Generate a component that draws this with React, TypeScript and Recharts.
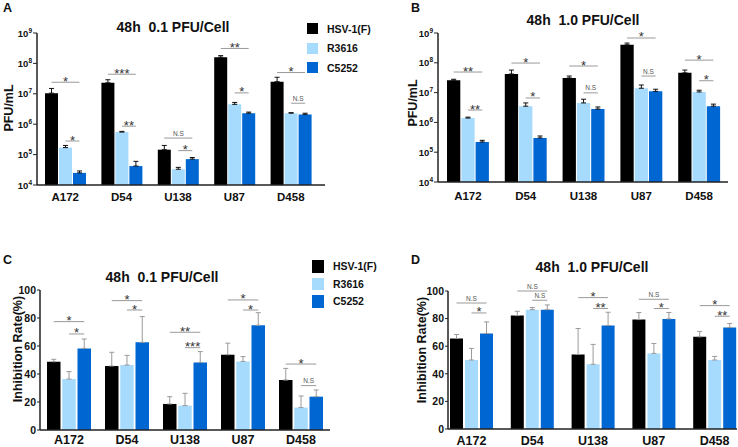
import React from "react";
import { BarChart, Bar, XAxis, YAxis, ErrorBar } from "recharts";

const FONT = '"Liberation Sans", Arial, Helvetica, sans-serif';

const cells = ["A172", "D54", "U138", "U87", "D458"];
const viruses = ["HSV-1(F)", "R3616", "C5252"];
const barColors = ["#000000", "#a6dbfd", "#0067d2"];

// A - titer at 0.1 PFU/cell (mean and mean + SD)
const titerLowHsv = [1.05e7, 2.3e7, 1.45e5, 1.6e8, 2.5e7];
const titerLowHsvTop = [1.5e7, 2.9e7, 2.0e5, 1.8e8, 3.5e7];
const titerLowR3616 = [1.7e5, 5.5e5, 3.3e4, 4.5e6, 2.3e6];
const titerLowR3616Top = [2.0e5, 5.8e5, 3.8e4, 5.2e6, 2.4e6];
const titerLowC5252 = [2.5e4, 4.2e4, 7.1e4, 2.3e6, 2.1e6];
const titerLowC5252Top = [2.9e4, 6.0e4, 8.0e4, 2.5e6, 2.3e6];
const titerLowSigTop = [2.4e7, 4.4e7, 3.5e5, 3.1e8, 5.0e7];
const titerLowSigTopText = ["*", "***", "N.S", "**", "*"];
const titerLowSigLow = [2.8e5, 8.6e5, 1.35e5, 1.07e7, 4.9e6];
const titerLowSigLowText = ["*", "**", "*", "*", "N.S"];

// B - titer at 1.0 PFU/cell
const titerHighHsv = [2.6e7, 4.2e7, 3.1e7, 4.0e8, 4.6e7];
const titerHighHsvTop = [2.8e7, 5.7e7, 3.6e7, 4.6e8, 5.7e7];
const titerHighR3616 = [1.4e6, 3.5e6, 4.5e6, 1.4e7, 1.05e7];
const titerHighR3616Top = [1.5e6, 4.5e6, 6.0e6, 1.8e7, 1.2e7];
const titerHighC5252 = [2.2e5, 3.0e5, 2.8e6, 1.1e7, 3.5e6];
const titerHighC5252Top = [2.5e5, 3.5e5, 3.3e6, 1.3e7, 4.1e6];
const titerHighSigTop = [4.9e7, 9.8e7, 7.8e7, 6.8e8, 1.23e8];
const titerHighSigTopText = ["**", "*", "*", "*", "*"];
const titerHighSigLow = [2.6e6, 6.6e6, 9.8e6, 3.6e7, 2.5e7];
const titerHighSigLowText = ["**", "*", "N.S", "N.S", "*"];

// C - inhibition rate at 0.1 PFU/cell
const inhLowHsv = [48.8, 45.7, 18.6, 53.8, 35.7];
const inhLowHsvTop = [50.5, 55.5, 23.8, 62, 44];
const inhLowR3616 = [36.4, 46.4, 17.4, 49, 16];
const inhLowR3616Top = [41.7, 53.3, 26.2, 52.4, 24.3];
const inhLowC5252 = [58.3, 62.6, 48.3, 74.8, 23.8];
const inhLowC5252Top = [65, 81, 56, 83.8, 28.6];
const inhLowSigTop = [77.4, 92.4, 69.8, 92.9, 47.1];
const inhLowSigTopText = ["*", "*", "**", "*", "*"];
const inhLowSigLow = [68.6, 85.7, 58.8, 85.7, 31.7];
const inhLowSigLowText = ["*", "*", "***", "*", "N.S"];

// D - inhibition rate at 1.0 PFU/cell
const inhHighHsv = [65.6, 82.2, 54, 79.3, 66.8];
const inhHighHsvTop = [68.5, 85.3, 72.8, 84.4, 70.7];
const inhHighR3616 = [50, 86.5, 46.9, 54.8, 50];
const inhHighR3616Top = [58.4, 88, 61.3, 62, 52.6];
const inhHighC5252 = [69.2, 86.5, 75, 79.8, 73.6];
const inhHighC5252Top = [77.6, 89.9, 84.6, 84.4, 76.4];
const inhHighSigTop = [91.3, 100, 95.2, 94, 89.4];
const inhHighSigTopText = ["N.S", "N.S", "*", "N.S", "*"];
const inhHighSigLow = [84.1, 93.3, 87.3, 87.3, 81.7];
const inhHighSigLowText = ["*", "N.S", "**", "*", "**"];

const logTicks = [1e4, 1e5, 1e6, 1e7, 1e8, 1e9];
const pctTicks = [0, 20, 40, 60, 80, 100];

const buildRows = (s: number[][], sigTop: number[], sigTopText: string[], sigLow: number[], sigLowText: string[]) =>
  cells.map((cell, i) => ({
    cell,
    hsv: s[0][i],
    r3616: s[2][i],
    c5252: s[4][i],
    hsvErr: [0, s[1][i] - s[0][i]],
    r3616Err: [0, s[3][i] - s[2][i]],
    c5252Err: [0, s[5][i] - s[4][i]],
    b1: sigTop[i],
    t1: sigTopText[i],
    b2: sigLow[i],
    t2: sigLowText[i],
  }));

const rowsA = buildRows(
  [titerLowHsv, titerLowHsvTop, titerLowR3616, titerLowR3616Top, titerLowC5252, titerLowC5252Top],
  titerLowSigTop, titerLowSigTopText, titerLowSigLow, titerLowSigLowText
);
const rowsB = buildRows(
  [titerHighHsv, titerHighHsvTop, titerHighR3616, titerHighR3616Top, titerHighC5252, titerHighC5252Top],
  titerHighSigTop, titerHighSigTopText, titerHighSigLow, titerHighSigLowText
);
const rowsC = buildRows(
  [inhLowHsv, inhLowHsvTop, inhLowR3616, inhLowR3616Top, inhLowC5252, inhLowC5252Top],
  inhLowSigTop, inhLowSigTopText, inhLowSigLow, inhLowSigLowText
);
const rowsD = buildRows(
  [inhHighHsv, inhHighHsvTop, inhHighR3616, inhHighR3616Top, inhHighC5252, inhHighC5252Top],
  inhHighSigTop, inhHighSigTopText, inhHighSigLow, inhHighSigLowText
);

const PowTick = (props: any) => {
  const { x, y, payload } = props;
  const exp = Math.round(Math.log10(payload.value));
  return (
    <text x={x} y={y} dy={3.5} textAnchor="end" fontSize={9.5} fontWeight="bold" fill="#111">
      10
      <tspan dy={-4} fontSize={6.5}>{exp}</tspan>
    </text>
  );
};

const Panel = ({ cfg, rows }: any) => {
  const { barSize, gap, log } = cfg;
  const group = barSize * 3 + gap * 2;
  const axisLine = { stroke: "#222", strokeWidth: 1.5 };

  // significance bracket drawn across the bar group, height from the y scale
  const bracket = (from: number, to: number, textKey: string) => (p: any) => {
    if (p.y == null || isNaN(p.y)) return <g />;
    const bw = (p.width - 2 * gap) / 3;
    const x1 = p.x + from * (bw + gap) + bw / 2;
    const x2 = p.x + to * (bw + gap) + bw / 2;
    const t = p.payload[textKey];
    const ns = t === "N.S";
    return (
      <g>
        <line x1={x1} x2={x2} y1={p.y} y2={p.y} stroke="#9a9a9a" strokeWidth={1} />
        <text
          x={(x1 + x2) / 2}
          y={ns ? p.y - 2.5 : p.y + 3.5}
          textAnchor="middle"
          fontSize={ns ? 6.5 : 13}
          fill={ns ? "#555" : "#333"}
        >
          {t}
        </text>
      </g>
    );
  };

  return (
    <div style={{ position: "absolute", left: cfg.left, top: cfg.top }}>
      <BarChart
        width={cfg.width}
        height={cfg.height}
        data={rows}
        margin={cfg.margin}
        barGap={gap}
        barCategoryGap={0}
      >
        <XAxis
          dataKey="cell"
          interval={0}
          height={cfg.xAxisHeight}
          padding={cfg.padding}
          tickLine={false}
          tickSize={0}
          tickMargin={cfg.xTickMargin}
          axisLine={axisLine}
          tick={{ fontSize: cfg.xTickFont, fontWeight: "bold", fill: "#111" }}
        />
        <XAxis xAxisId="s1" dataKey="cell" hide padding={cfg.padding} />
        <XAxis xAxisId="s2" dataKey="cell" hide padding={cfg.padding} />
        {log ? (
          <YAxis
            width={cfg.yAxisWidth}
            scale="log"
            domain={[1e4, 1e9]}
            ticks={logTicks}
            interval={0}
            tick={PowTick}
            tickSize={4}
            tickMargin={1}
            axisLine={axisLine}
            tickLine={{ stroke: "#222" }}
          />
        ) : (
          <YAxis
            width={cfg.yAxisWidth}
            domain={[0, 100]}
            ticks={pctTicks}
            interval={0}
            tick={{ fontSize: 10.5, fontWeight: "bold", fill: "#111" }}
            tickSize={3}
            tickMargin={1}
            axisLine={axisLine}
            tickLine={{ stroke: "#222" }}
          />
        )}
        <Bar dataKey="hsv" fill={barColors[0]} barSize={barSize} isAnimationActive={false}>
          <ErrorBar dataKey="hsvErr" width={2.5} stroke={cfg.errColor} strokeWidth={1} />
        </Bar>
        <Bar dataKey="r3616" fill={barColors[1]} barSize={barSize} isAnimationActive={false}>
          <ErrorBar dataKey="r3616Err" width={2.5} stroke={cfg.errColor} strokeWidth={1} />
        </Bar>
        <Bar dataKey="c5252" fill={barColors[2]} barSize={barSize} isAnimationActive={false}>
          <ErrorBar dataKey="c5252Err" width={2.5} stroke={cfg.errColor} strokeWidth={1} />
        </Bar>
        <Bar xAxisId="s1" dataKey="b1" barSize={group} isAnimationActive={false} shape={bracket(0, 2, "t1")} />
        <Bar xAxisId="s2" dataKey="b2" barSize={group} isAnimationActive={false} shape={bracket(1, 2, "t2")} />
      </BarChart>
    </div>
  );
};

const Title = ({ cx, top, text }: any) => (
  <div
    style={{
      position: "absolute",
      left: cx,
      top,
      transform: "translateX(-50%)",
      fontSize: 14,
      lineHeight: "14px",
      fontWeight: "bold",
      whiteSpace: "pre",
      color: "#111",
    }}
  >
    {text}
  </div>
);

const Letter = ({ left, top, text }: any) => (
  <div style={{ position: "absolute", left, top, fontSize: 12.5, lineHeight: "12.5px", fontWeight: "bold", color: "#111" }}>
    {text}
  </div>
);

const VLabel = ({ cx, cy, text }: any) => (
  <div
    style={{
      position: "absolute",
      left: cx,
      top: cy,
      transform: "translate(-50%, -50%) rotate(-90deg)",
      fontSize: 12.5,
      lineHeight: "12.5px",
      fontWeight: "bold",
      whiteSpace: "nowrap",
      color: "#111",
    }}
  >
    {text}
  </div>
);

const Legend = ({ left, top, step, sw, sh }: any) => (
  <div style={{ position: "absolute", left, top }}>
    {viruses.map((name, i) => (
      <div key={name} style={{ position: "absolute", left: 0, top: i * step, display: "flex", alignItems: "center", height: sh }}>
        <div style={{ width: sw, height: sh, background: barColors[i] }} />
        <div style={{ marginLeft: 9, fontSize: 10.5, fontWeight: "bold", color: "#111", whiteSpace: "nowrap" }}>{name}</div>
      </div>
    ))}
  </div>
);

const cfgA = {
  left: 0, top: 0, width: 370, height: 220,
  margin: { top: 33, right: 45, bottom: 0, left: 0 },
  yAxisWidth: 37, xAxisHeight: 35, padding: { left: 0, right: 6 },
  barSize: 13, gap: 1, log: true, xTickFont: 11.5, xTickMargin: 8, errColor: "#111",
};
const cfgB = {
  left: 370, top: 0, width: 368, height: 220,
  margin: { top: 33, right: 10, bottom: 0, left: 0 },
  yAxisWidth: 68, xAxisHeight: 38, padding: { left: 1, right: 0 },
  barSize: 13.3, gap: 1, log: true, xTickFont: 11.5, xTickMargin: 10, errColor: "#111",
};
const cfgC = {
  left: 0, top: 220, width: 370, height: 240,
  margin: { top: 70, right: 40, bottom: 0, left: 0 },
  yAxisWidth: 40, xAxisHeight: 30, padding: { left: 0, right: 0 },
  barSize: 13.5, gap: 1.75, log: false, xTickFont: 12.5, xTickMargin: 5, errColor: "#9a9a9a",
};
const cfgD = {
  left: 370, top: 220, width: 368, height: 240,
  margin: { top: 71, right: 1, bottom: 0, left: 0 },
  yAxisWidth: 78, xAxisHeight: 31, padding: { left: -7, right: -8 },
  barSize: 13, gap: 2, log: false, xTickFont: 12.5, xTickMargin: 7, errColor: "#9a9a9a",
};

export default function App() {
  return (
    <div
      style={{
        position: "absolute",
        left: 0,
        top: 0,
        width: 738,
        height: 447,
        overflow: "hidden",
        background: "#fff",
        fontFamily: FONT,
      }}
    >
      <Panel cfg={cfgA} rows={rowsA} />
      <Panel cfg={cfgB} rows={rowsB} />
      <Panel cfg={cfgC} rows={rowsC} />
      <Panel cfg={cfgD} rows={rowsD} />

      <Letter left={3} top={1.5} text="A" />
      <Letter left={411} top={1.5} text="B" />
      <Letter left={3} top={253.5} text="C" />
      <Letter left={411} top={253.5} text="D" />

      <Title cx={173} top={20.2} text="48h  0.1 PFU/Cell" />
      <Title cx={583} top={13.2} text="48h  1.0 PFU/Cell" />
      <Title cx={162} top={270.2} text="48h  0.1 PFU/Cell" />
      <Title cx={592} top={260.2} text="48h  1.0 PFU/Cell" />

      <VLabel cx={9} cy={108} text="PFU/mL" />
      <VLabel cx={413} cy={103} text="PFU/mL" />
      <VLabel cx={18} cy={349} text="Inhibition Rate(%)" />
      <VLabel cx={422} cy={350} text="Inhibition Rate(%)" />

      <Legend left={307} top={23} step={19.5} sw={11} sh={11} />
      <Legend left={312} top={260} step={17.5} sw={12} sh={12.5} />
    </div>
  );
}
